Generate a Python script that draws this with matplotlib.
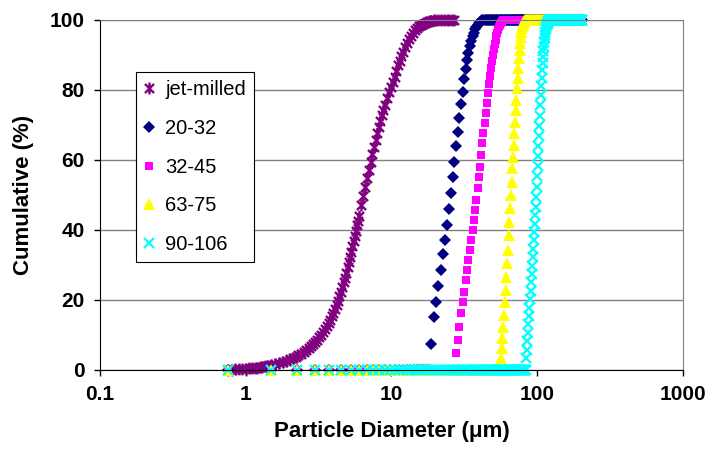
import numpy as np
import matplotlib.pyplot as plt
from matplotlib.path import Path
from matplotlib.ticker import FixedLocator, NullLocator

plt.rcParams['font.family'] = ['Liberation Sans', 'DejaVu Sans']

# size classes of the analyser for the sieved fractions (um), 0.75 um apart
bin_width = 0.75
n_bins = 270
sizes = bin_width * np.arange(1, n_bins + 1)

# jet-milled powder (own, finer size grid)
jm_size = [0.75, 0.80, 0.85, 0.90, 0.95, 1.00, 1.05, 1.10, 1.15, 1.20, 1.25, 1.30,
           1.35, 1.40, 1.45, 1.50, 1.60, 1.70, 1.80, 1.90, 2.00, 2.10, 2.20, 2.30,
           2.40, 2.50, 2.60, 2.70, 2.80, 2.90, 3.00, 3.10, 3.20, 3.30, 3.40, 3.50,
           3.60, 3.70, 3.80, 3.90, 4.00, 4.10, 4.20, 4.30, 4.40, 4.50, 4.60, 4.70,
           4.80, 4.90, 5.00, 5.10, 5.20, 5.30, 5.40, 5.50, 5.60, 5.70, 5.80, 5.90,
           6.00, 6.20, 6.40, 6.60, 6.80, 7.00, 7.20, 7.40, 7.60, 7.80, 8.00, 8.20,
           8.40, 8.60, 8.80, 9.00, 9.30, 9.60, 9.90, 10.2, 10.5, 10.8, 11.1, 11.4,
           11.7, 12.0, 12.4, 12.8, 13.2, 13.6, 14.0, 14.5, 15.0, 15.5, 16.0, 16.5,
           17.0, 17.5, 18.0, 18.5, 19.0, 19.5, 20.0, 21.0, 22.0, 23.0, 24.0, 25.0,
           26.0, 27.0]
jm_cum = [0.0, 0.1, 0.2, 0.3, 0.35, 0.4, 0.5, 0.55, 0.6, 0.7, 0.8, 0.9,
          1.0, 1.1, 1.2, 1.3, 1.6, 1.9, 2.2, 2.6, 3.0, 3.4, 3.8, 4.2,
          4.7, 5.2, 5.7, 6.2, 6.8, 7.4, 8.0, 8.7, 9.4, 10.1, 10.9, 11.7,
          12.5, 13.4, 14.3, 15.3, 16.3, 17.4, 18.6, 19.8, 21.0, 22.3, 23.6, 25.0,
          26.4, 27.8, 29.3, 30.8, 32.3, 33.8, 35.3, 36.8, 38.3, 39.8, 41.3, 42.7,
          44.1, 47.0, 49.7, 52.3, 54.8, 57.2, 59.5, 61.7, 63.8, 65.8, 67.7, 69.5,
          71.2, 72.8, 74.3, 75.7, 77.6, 79.3, 80.8, 82.3, 83.8, 85.5, 87.0, 88.4,
          89.7, 90.9, 92.3, 93.5, 94.6, 95.5, 96.3, 97.1, 97.7, 98.2, 98.6, 98.9,
          99.2, 99.4, 99.6, 99.7, 99.8, 99.9, 100.0, 100.0, 100.0, 100.0, 100.0, 100.0,
          100.0, 100.0]

# sieved fractions: first size class above 0 % and the values read up the rise
f20_first = 25
f20_rise = [7.5, 15.0, 19.5, 24.0, 28.5, 33.0, 37.0, 41.5, 46.0, 50.5, 55.0, 59.5,
            64.0, 68.0, 72.0, 76.0, 79.5, 83.0, 86.0, 88.5, 90.5, 92.5, 94.0, 95.3,
            96.4, 97.3, 98.0, 98.6, 99.0, 99.4, 99.7, 99.9]

f32_first = 37
f32_rise = [4.9, 8.6, 12.3, 16.3, 19.4, 22.3, 25.7, 28.6, 31.4, 34.3, 37.1, 40.0,
            42.9, 45.7, 48.6, 52.0, 55.0, 58.0, 61.4, 64.8, 67.7, 70.6, 73.4, 76.2,
            79.0, 81.6, 84.0, 86.2, 88.2, 90.0, 91.6, 93.0, 94.3, 95.4, 96.4, 97.2,
            97.9, 98.5, 99.0, 99.4, 99.7, 99.9]

f63_first = 75
f63_rise = [3.4, 6.3, 9.0, 12.3, 15.7, 19.4, 22.9, 26.6, 30.6, 34.3, 38.6, 42.3,
            46.3, 50.0, 53.7, 57.7, 60.9, 64.3, 67.7, 70.9, 74.3, 77.0, 80.6, 83.4,
            86.3, 89.0, 91.5, 93.5, 95.2, 96.6, 97.7, 98.5, 99.1, 99.5, 99.8]

f90_first = 112
f90_rise = [3.4, 5.8, 8.2, 10.6, 13.0, 15.4, 17.8, 20.2, 22.6, 25.0, 27.4, 29.8,
            32.2, 34.6, 37.0, 39.4, 41.8, 44.2, 46.6, 49.5, 52.4, 55.3, 58.2, 61.1,
            64.0, 66.9, 69.8, 72.7, 75.6, 78.5, 81.0, 83.4, 85.6, 87.6, 89.4, 91.0,
            92.4, 93.7, 94.8, 95.8, 96.7, 97.4, 98.0, 98.5, 98.9, 99.2, 99.5, 99.7,
            99.9]


def cumulative(first_bin, rise):
    # 0 % below the rise, 100 % above it
    y = np.full(n_bins, 100.0)
    y[:first_bin - 1] = 0.0
    y[first_bin - 1:first_bin - 1 + len(rise)] = rise
    return y


# Excel "star" marker: an x with a vertical bar
star = Path([(-1, -1), (1, 1), (-1, 1), (1, -1), (0, -1.3), (0, 1.3)],
            [Path.MOVETO, Path.LINETO, Path.MOVETO, Path.LINETO, Path.MOVETO, Path.LINETO])

fig = plt.figure(figsize=(7.12, 4.49), dpi=100)
ax = fig.add_axes([0.1404, 0.1760, 0.8188, 0.7795])

ax.plot(jm_size, jm_cum, ls='none', marker=star, ms=8.5, mfc='none', mec='#800080',
        mew=1.7, clip_on=False, label='jet-milled')
ax.plot(sizes, cumulative(f20_first, f20_rise), ls='none', marker='D', ms=6.2,
        color='#000080', mew=0, clip_on=False, label='20-32')
ax.plot(sizes, cumulative(f32_first, f32_rise), ls='none', marker='s', ms=6,
        color='#FF00FF', mew=0, clip_on=False, label='32-45')
ax.plot(sizes, cumulative(f63_first, f63_rise), ls='none', marker='^', ms=8,
        color='#FFFF00', mew=0, clip_on=False, label='63-75')
ax.plot(sizes, cumulative(f90_first, f90_rise), ls='none', marker='x', ms=6.5,
        color='#00FFFF', mew=1.6, clip_on=False, label='90-106')

# axes
ax.set_xscale('log')
ax.set_xlim(0.1, 1000)
ax.set_ylim(0, 100)
ax.xaxis.set_major_locator(FixedLocator([0.1, 1, 10, 100, 1000]))
ax.xaxis.set_minor_locator(NullLocator())
ax.set_xticklabels(['0.1', '1', '10', '100', '1000'])
ax.set_yticks([0, 20, 40, 60, 80, 100])
ax.tick_params(direction='out', length=4, width=1, labelsize=15, pad=7, color='black')
for lbl in ax.get_xticklabels() + ax.get_yticklabels():
    lbl.set_fontweight('bold')

ax.yaxis.grid(True, color='#808080', lw=1)
ax.set_axisbelow(True)
for side in ('top', 'right'):
    ax.spines[side].set_color('#808080')
for side in ('left', 'bottom'):
    ax.spines[side].set_color('black')

ax.set_xlabel('Particle Diameter (μm)', fontsize=16, fontweight='bold', labelpad=12)
ax.set_ylabel('Cumulative (%)', fontsize=16, fontweight='bold', labelpad=11)

leg = ax.legend(loc='upper left', bbox_to_anchor=(0.062, 0.851), borderaxespad=0,
                fontsize=14.5, numpoints=1, handlelength=0.5, handletextpad=0.55,
                labelspacing=0.98, borderpad=0.4, fancybox=False, framealpha=1,
                edgecolor='black')
leg.get_frame().set_linewidth(0.8)

fig.savefig('out.png', dpi=100)
